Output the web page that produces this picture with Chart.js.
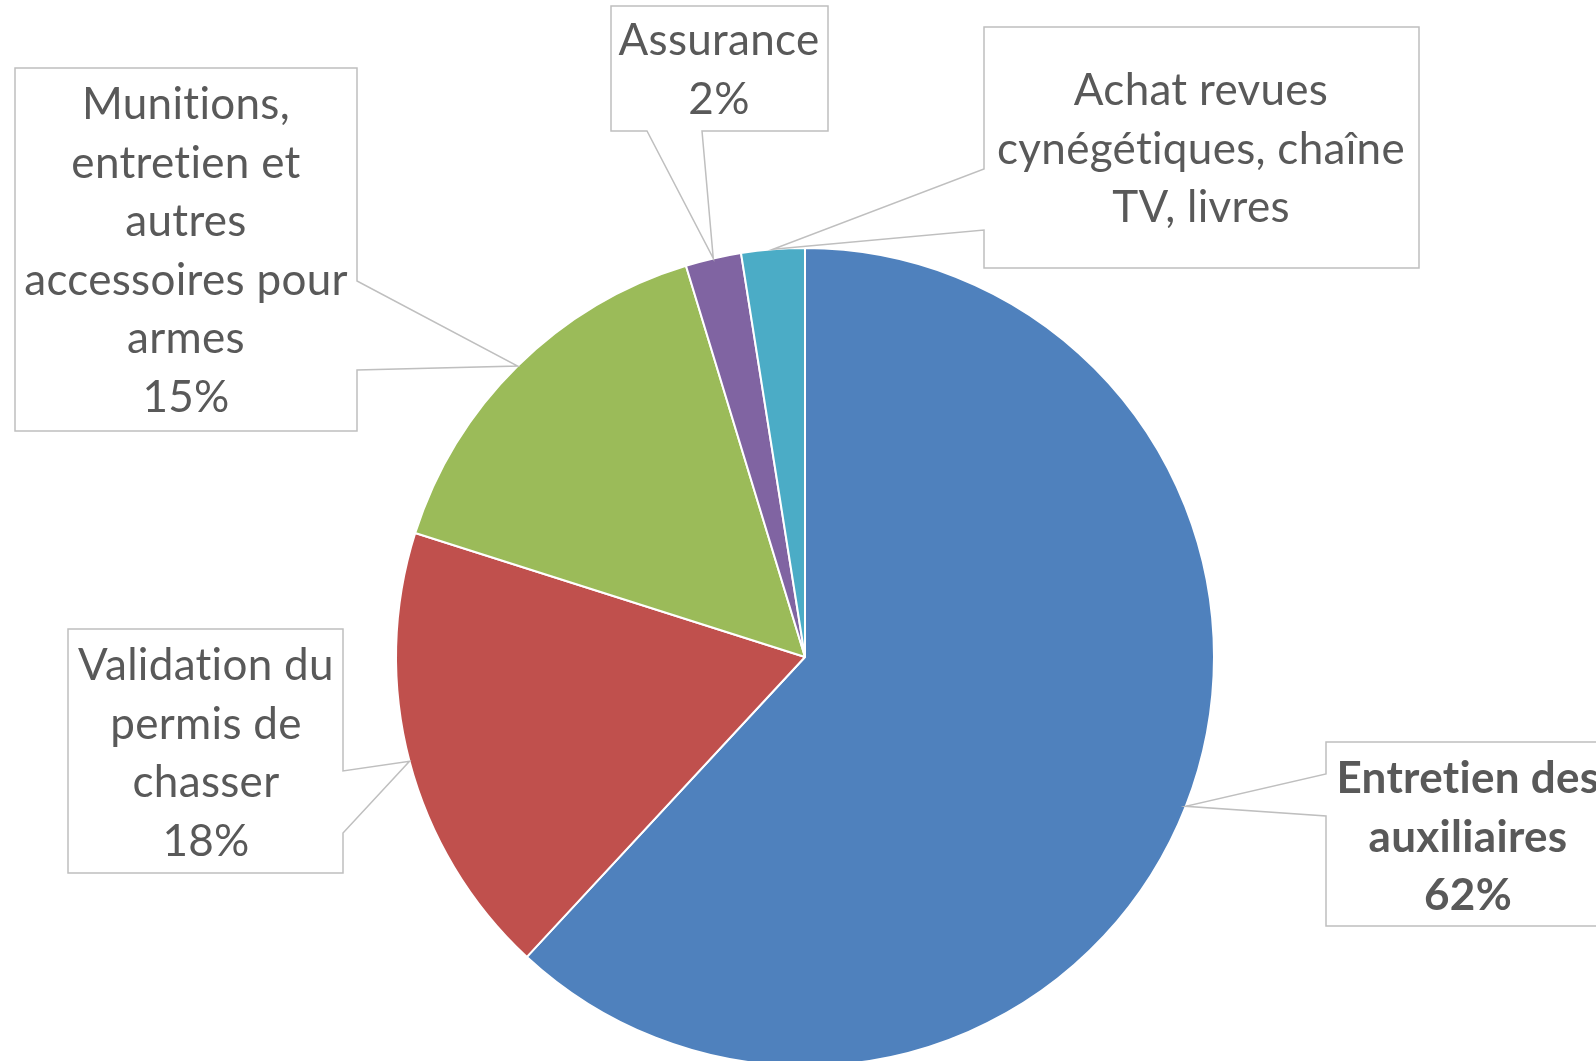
<!DOCTYPE html>
<html>
<head>
<meta charset="utf-8">
<script src="https://cdn.jsdelivr.net/npm/chart.js@4"></script>
<style>
  html, body { margin: 0; padding: 0; background: #fff; overflow: hidden; }
  #wrap { position: absolute; left: 0; top: 0; width: 1596px; height: 1100px; }
</style>
</head>
<body>
<div id="wrap"><canvas id="pieChart" width="1596" height="1100"></canvas></div>
<script>
// données (parts en %)
const categories = [
  'Entretien des auxiliaires',
  'Validation du permis de chasser',
  'Munitions, entretien et autres accessoires pour armes',
  'Assurance',
  'Achat revues cynégétiques, chaîne TV, livres'
];
const shares = [61.9, 18.0, 15.4, 2.2, 2.5];
const labelLines = [
  ['Entretien des', 'auxiliaires'],
  ['Validation du', 'permis de', 'chasser'],
  ['Munitions,', 'entretien et', 'autres', 'accessoires pour', 'armes'],
  ['Assurance'],
  ['Achat revues', 'cynégétiques, chaîne', 'TV, livres']
];
const showPercent = [true, true, true, true, false];
const boldLabel = [true, false, false, false, false];
const colors = ['#4F81BD', '#C0504D', '#9BBB59', '#8064A2', '#4BACC6'];

// boîtes des étiquettes (bulles avec pointeur)
const boxes = [
  { x0: 1326, y0: 742, x1: 1630, y1: 926, side: 'left', n1: 774, n2: 816, cx: 1468, top: 779 },
  { x0: 68, y0: 629, x1: 343, y1: 873, side: 'right', n1: 771, n2: 833, cx: 206, top: 666 },
  { x0: 15, y0: 68, x1: 357, y1: 431, side: 'right', n1: 281, n2: 370, cx: 186, top: 105 },
  { x0: 611, y0: 6, x1: 828, y1: 131, side: 'bottom', n1: 647, n2: 702, cx: 719, top: 41 },
  { x0: 984, y0: 27, x1: 1419, y1: 268, side: 'left', n1: 169, n2: 230, cx: 1201, top: 91 }
];
const lineGap = 58.5;

const calloutPlugin = {
  id: 'callouts',
  afterDraw(chart) {
    const ctx = chart.ctx;
    const arcs = chart.getDatasetMeta(0).data;
    const total = shares.reduce((a, b) => a + b, 0);
    arcs.forEach((arc, i) => {
      const p = arc.getProps(['x', 'y', 'startAngle', 'endAngle', 'outerRadius']);
      const mid = (p.startAngle + p.endAngle) / 2;
      const tx = p.x + Math.cos(mid) * p.outerRadius;
      const ty = p.y + Math.sin(mid) * p.outerRadius;
      const b = boxes[i];

      ctx.save();
      ctx.beginPath();
      if (b.side === 'left') {
        ctx.moveTo(b.x0, b.y0);
        ctx.lineTo(b.x1, b.y0);
        ctx.lineTo(b.x1, b.y1);
        ctx.lineTo(b.x0, b.y1);
        ctx.lineTo(b.x0, b.n2);
        ctx.lineTo(tx, ty);
        ctx.lineTo(b.x0, b.n1);
      } else if (b.side === 'right') {
        ctx.moveTo(b.x0, b.y0);
        ctx.lineTo(b.x1, b.y0);
        ctx.lineTo(b.x1, b.n1);
        ctx.lineTo(tx, ty);
        ctx.lineTo(b.x1, b.n2);
        ctx.lineTo(b.x1, b.y1);
        ctx.lineTo(b.x0, b.y1);
      } else {
        ctx.moveTo(b.x0, b.y0);
        ctx.lineTo(b.x1, b.y0);
        ctx.lineTo(b.x1, b.y1);
        ctx.lineTo(b.n2, b.y1);
        ctx.lineTo(tx, ty);
        ctx.lineTo(b.n1, b.y1);
        ctx.lineTo(b.x0, b.y1);
      }
      ctx.closePath();
      ctx.fillStyle = '#ffffff';
      ctx.fill();
      ctx.strokeStyle = '#bfbfbf';
      ctx.lineWidth = 1.5;
      ctx.stroke();

      const lines = labelLines[i].slice();
      if (showPercent[i]) lines.push(Math.round(shares[i] / total * 100) + '%');
      ctx.fillStyle = '#595959';
      ctx.font = (boldLabel[i] ? 'bold ' : '') + '44px Lato';
      ctx.letterSpacing = '0.3px'; // évite aussi la ligature « ti »
      ctx.textAlign = 'center';
      ctx.textBaseline = 'middle';
      lines.forEach((t, k) => ctx.fillText(t, b.cx, b.top + k * lineGap));
      ctx.restore();
    });
  }
};

const loadChart = () => {
  const ctx = document.getElementById('pieChart').getContext('2d');
  new Chart(ctx, {
    type: 'pie',
    data: {
      labels: categories,
      datasets: [{
        data: shares,
        backgroundColor: colors,
        borderColor: '#ffffff',
        borderWidth: 2
      }]
    },
    options: {
      responsive: false,
      animation: false,
      layout: { padding: { left: 395, right: 381, top: 247, bottom: 33 } },
      plugins: {
        legend: { display: false },
        tooltip: { enabled: false },
        title: { display: false }
      }
    },
    plugins: [calloutPlugin]
  });
};

document.addEventListener('DOMContentLoaded', loadChart);
</script>
</body>
</html>
